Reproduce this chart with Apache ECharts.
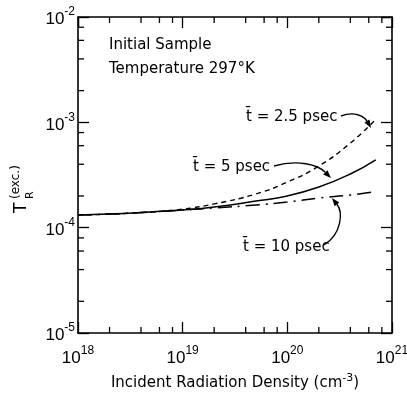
<!DOCTYPE html>
<html>
<head>
<meta charset="utf-8">
<script src="https://cdn.jsdelivr.net/npm/echarts@6/dist/echarts.min.js"></script>
<style>
  html, body { margin: 0; padding: 0; background: #fff; }
  #chart { width: 407px; height: 394px; }
</style>
</head>
<body>
<div id="chart"></div>
<script>
// incident radiation density (cm^-3)
var density = [1e18, 2e18, 5e18, 1e19, 2e19, 5e19, 1e20, 2e20, 4e20, 7e20]
var densityDashDot = [1e18, 2e18, 5e18, 1e19, 2e19, 5e19, 1e20, 2e20, 4e20, 6.5e20]
// T_R(exc.) for each pulse length
var t25 = [1.32e-4, 1.345e-4, 1.41e-4, 1.50e-4, 1.68e-4, 2.09e-4, 2.71e-4, 3.85e-4, 6.35e-4, 1.07e-3]
var t5 = [1.32e-4, 1.345e-4, 1.41e-4, 1.47e-4, 1.57e-4, 1.79e-4, 2.0e-4, 2.43e-4, 3.23e-4, 4.4e-4]
var t10 = [1.32e-4, 1.345e-4, 1.41e-4, 1.47e-4, 1.535e-4, 1.64e-4, 1.75e-4, 1.91e-4, 2.04e-4, 2.18e-4]
// minor tick positions
var minorX = [2e18, 4e18, 6e18, 8e18, 2e19, 4e19, 6e19, 8e19, 2e20, 4e20, 6e20, 8e20]
var minorY = [2e-5, 4e-5, 6e-5, 8e-5, 2e-4, 4e-4, 6e-4, 8e-4, 2e-3, 4e-3, 6e-3, 8e-3]

var FONT = 'DejaVu Sans'
var NUM_FONT = 'Liberation Sans'

function zip (xs, ys) {
  return xs.map(function (x, i) { return [x, ys[i]] })
}

function powLabel (v) {
  return '{a|10}{b|' + Math.round(Math.log10(v)) + '}'
}

var labelRich = {
  a: { fontFamily: NUM_FONT, fontSize: 17, color: '#000', lineHeight: 22, verticalAlign: 'bottom' },
  b: { fontFamily: NUM_FONT, fontSize: 12, color: '#000', lineHeight: 22, verticalAlign: 'top' }
}

function axisBase (extra) {
  var base = {
    type: 'log',
    logBase: 10,
    axisLine: { show: true, onZero: false, lineStyle: { color: '#000', width: 1.6 } },
    axisTick: { show: true, inside: true, length: 11, lineStyle: { color: '#000', width: 1.3 } },
    splitLine: { show: false },
    minorTick: { show: false }
  }
  return Object.assign(base, extra)
}

// minor ticks drawn on all four sides of the frame
function tickRenderer (isX) {
  return function (params, api) {
    var cs = params.coordSys
    var p = api.coord([api.value(0), api.value(1)])
    var len = 6
    var style = { stroke: '#000', lineWidth: 1.3 }
    if (isX) {
      return {
        type: 'group',
        children: [
          { type: 'line', shape: { x1: p[0], y1: cs.y + cs.height, x2: p[0], y2: cs.y + cs.height - len }, style: style },
          { type: 'line', shape: { x1: p[0], y1: cs.y, x2: p[0], y2: cs.y + len }, style: style }
        ]
      }
    }
    return {
      type: 'group',
      children: [
        { type: 'line', shape: { x1: cs.x, y1: p[1], x2: cs.x + len, y2: p[1] }, style: style },
        { type: 'line', shape: { x1: cs.x + cs.width, y1: p[1], x2: cs.x + cs.width - len, y2: p[1] }, style: style }
      ]
    }
  }
}

function arrow (x0, y0, c1x, c1y, c2x, c2y, x1, y1) {
  var dx = x1 - c2x
  var dy = y1 - c2y
  var d = Math.sqrt(dx * dx + dy * dy)
  dx /= d
  dy /= d
  var L = 8
  var W = 3
  var bx = x1 - dx * L
  var by = y1 - dy * L
  return [
    {
      type: 'bezierCurve',
      shape: { x1: x0, y1: y0, cpx1: c1x, cpy1: c1y, cpx2: c2x, cpy2: c2y, x2: bx, y2: by },
      style: { stroke: '#000', lineWidth: 1.4, fill: null }
    },
    {
      type: 'polygon',
      shape: { points: [[x1, y1], [bx - dy * W, by + dx * W], [bx + dy * W, by - dx * W]] },
      style: { fill: '#000' }
    }
  ]
}

function label (text, x, y, size) {
  return {
    type: 'text',
    x: x,
    y: y,
    style: { text: text, fontFamily: FONT, fontSize: size || 15, fill: '#000', verticalAlign: 'middle' }
  }
}

var graphics = [
  label('Initial Sample', 109, 45, 15),
  label('Temperature 297\u00b0K', 109, 69, 15),
  label('t\u0304 = 2.5 psec', 246, 117, 15),
  label('t\u0304 = 5 psec', 193, 167, 15),
  label('t\u0304 = 10 psec', 243, 247, 15),
  {
    type: 'group',
    x: 22,
    y: 213,
    rotation: Math.PI / 2,
    children: [
      { type: 'text', x: 0, y: 0, style: { text: 'T', fontFamily: FONT, fontSize: 17, fill: '#000', verticalAlign: 'middle' } },
      { type: 'text', x: 14, y: 8, style: { text: 'R', fontFamily: FONT, fontSize: 11, fill: '#000', verticalAlign: 'middle' } },
      { type: 'text', x: 14, y: -6, style: { text: '(exc.)', fontFamily: FONT, fontSize: 12, fill: '#000', verticalAlign: 'middle' } }
    ]
  }
]
graphics = graphics
  .concat(arrow(341, 116, 354, 111, 364, 116, 371, 128))
  .concat(arrow(274, 166, 298, 159, 318, 165, 331, 178))
  .concat(arrow(324, 245, 342, 234, 343, 212, 332, 198))

var chart = echarts.init(document.getElementById('chart'))
chart.setOption({
  animation: false,
  backgroundColor: '#fff',
  grid: { left: 78, right: 15, top: 17, bottom: 61, outerBoundsMode: 'none' },
  xAxis: [
    axisBase({
      position: 'bottom',
      min: 1e18,
      max: 1e21,
      axisLabel: { formatter: powLabel, rich: labelRich, margin: 12 },
      name: 'Incident Radiation Density (cm{s|-3})',
      nameLocation: 'middle',
      nameGap: 40,
      nameTextStyle: {
        fontFamily: FONT,
        fontSize: 15,
        color: '#000',
        rich: { s: { fontFamily: FONT, fontSize: 11, color: '#000', verticalAlign: 'top', lineHeight: 20 } }
      }
    }),
    axisBase({ position: 'top', min: 1e18, max: 1e21, axisLabel: { show: false } })
  ],
  yAxis: [
    axisBase({
      position: 'left',
      min: 1e-5,
      max: 1e-2,
      axisLabel: { formatter: powLabel, rich: labelRich, margin: 3 }
    }),
    axisBase({ position: 'right', min: 1e-5, max: 1e-2, axisLabel: { show: false } })
  ],
  graphic: graphics,
  series: [
    {
      type: 'line',
      data: zip(density, t25),
      smooth: true,
      showSymbol: false,
      lineStyle: { color: '#000', width: 1.4, type: [5, 4] }
    },
    {
      type: 'line',
      data: zip(density, t5),
      smooth: true,
      showSymbol: false,
      lineStyle: { color: '#000', width: 1.5, type: 'solid' }
    },
    {
      type: 'line',
      data: zip(densityDashDot, t10),
      smooth: true,
      showSymbol: false,
      lineStyle: { color: '#000', width: 1.5, type: [14, 6, 2, 6] }
    },
    {
      type: 'custom',
      silent: true,
      clip: false,
      renderItem: tickRenderer(true),
      data: minorX.map(function (x) { return [x, 1e-4] })
    },
    {
      type: 'custom',
      silent: true,
      clip: false,
      renderItem: tickRenderer(false),
      data: minorY.map(function (y) { return [1e19, y] })
    }
  ]
})
</script>
</body>
</html>
